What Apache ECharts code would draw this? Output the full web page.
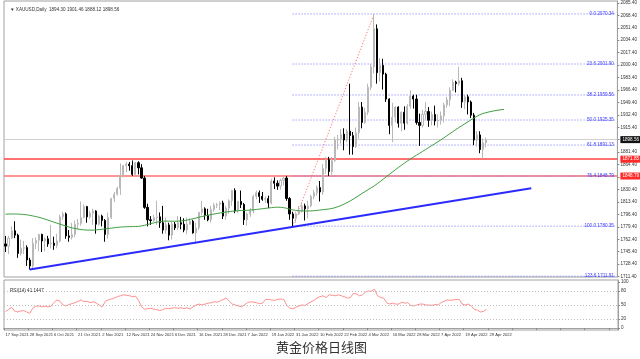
<!DOCTYPE html>
<html><head><meta charset="utf-8">
<script src="https://cdn.jsdelivr.net/npm/echarts@6/dist/echarts.min.js"></script>
<style>html,body{margin:0;padding:0;background:#fff}#c{width:640px;height:359px}</style>
</head><body><div id="c"></div>
<script>
const opens = [1756,1753,1764,1774,1768,1743,1750,1751,1734,1726,1757,1761,1769,1760,1763,1756,1757,1754,1760,1793,
1797,1767,1765,1769,1783,1784,1792,1807,1793,1798,1801,1783,1794,1788,1769,1792,1818,1824,1832,1850,
1863,1865,1863,1851,1867,1860,1846,1806,1789,1788,1792,1793,1785,1775,1782,1768,1783,1778,1785,1783,
1775,1783,1787,1771,1778,1799,1804,1795,1789,1803,1809,1810,1812,1794,1805,1815,1829,1801,1814,1810,
1789,1797,1801,1821,1826,1821,1817,1818,1812,1842,1839,1835,1843,1846,1818,1797,1791,1797,1801,1808,
1804,1808,1821,1826,1833,1827,1859,1871,1855,1870,1898,1899,1906,1898,1910,1904,1889,1908,1943,1922,
1936,1970,1998,2050,1990,2000,1988,1954,1918,1929,1943,1921,1936,1921,1944,1958,1954,1922,1918,1933,
1937,1925,1933,1924,1925,1931,1946,1953,1966,1977,1975,1979,1950,1957,1950,1932,1898,1905,1885,1894.30];
const highs = [1767,1767,1780,1787,1770,1762,1760,1754,1737,1764,1765,1770,1770,1765,1767,1782,1766,1770,1796,1800,
1799,1775,1785,1788,1790,1814,1810,1808,1801,1804,1802,1796,1796,1790,1799,1819,1827,1834,1866,1864,
1868,1868,1870,1868,1869,1865,1849,1811,1794,1796,1815,1799,1808,1792,1785,1787,1786,1794,1793,1791,
1792,1791,1789,1785,1800,1815,1806,1804,1808,1812,1812,1814,1815,1808,1817,1830,1832,1815,1829,1812,
1799,1805,1823,1829,1829,1827,1821,1822,1845,1847,1843,1845,1848,1849,1820,1800,1800,1808,1813,1811,
1815,1823,1830,1836,1842,1865,1875,1875,1875,1902,1905,1913,1914,1913,1975,1909,1915,1950,1950,1942,
1975,2002,2070.34,2056,2010,2009,1990,1955,1949,1944,1944,1937,1944,1947,1966,1960,1960,1934,1939,1950,
1943,1937,1945,1933,1937,1949,1957,1970,1981,1979,1998,1983,1960,1960,1952,1935,1910,1910,1900,1901.46];
const lows = [1745,1742,1763,1764,1737,1740,1742,1726,1721,1722,1749,1746,1745,1746,1752,1750,1748,1750,1758,1789,
1763,1759,1762,1765,1776,1781,1791,1785,1790,1782,1770,1781,1780,1759,1763,1790,1813,1822,1823,1847,
1854,1856,1849,1850,1851,1845,1804,1780,1782,1786,1782,1778,1770,1770,1761,1762,1775,1775,1776,1772,
1769,1782,1770,1756,1775,1795,1789,1787,1785,1800,1805,1802,1790,1789,1797,1808,1798,1798,1805,1782,
1781,1793,1798,1817,1812,1815,1812,1805,1810,1831,1830,1830,1836,1815,1789,1780.35,1785,1796,1799,1788,
1791,1806,1817,1822,1814,1823,1852,1849,1849,1868,1885,1893,1884,1895,1878,1878,1887,1900,1914,1920,
1932,1966,1989,1975,1978,1967,1950,1906,1895,1922,1915,1910,1912,1919,1941,1941,1919,1890,1915,1926,
1916,1918,1918,1915,1919,1922,1942,1944,1965,1963,1972,1942,1940,1933,1928,1891,1889,1880,1872,1888.12];
const closes = [1753,1764,1774,1768,1743,1750,1751,1734,1726,1757,1761,1769,1760,1763,1756,1757,1754,1760,1793,1797,
1767,1765,1769,1783,1784,1792,1807,1793,1798,1801,1783,1794,1788,1769,1792,1818,1824,1832,1850,1863,
1865,1863,1851,1867,1860,1846,1806,1789,1788,1792,1793,1785,1775,1782,1768,1783,1778,1785,1783,1775,
1783,1787,1771,1778,1799,1804,1795,1789,1803,1809,1810,1812,1794,1805,1815,1829,1801,1814,1810,1789,
1797,1801,1821,1826,1821,1817,1818,1812,1842,1839,1835,1843,1846,1818,1797,1791,1797,1801,1808,1804,
1808,1821,1826,1833,1827,1859,1871,1855,1870,1898,1899,1906,1898,1910,1904,1889,1908,1943,1922,1936,
1970,1998,2050,1990,2000,1988,1954,1918,1929,1943,1921,1936,1921,1944,1958,1954,1922,1918,1933,1937,
1925,1933,1924,1925,1931,1946,1953,1966,1977,1975,1979,1950,1957,1950,1932,1898,1905,1885,1894,1898.56];
const maValues = [1796.7,1796.8,1796.9,1796.9,1796.8,1796.6,1796.3,1795.8,1795.1,1794.3,
1793.4,1792.5,1791.3,1790.0,1788.6,1787.2,1785.8,1784.4,1783.0,1781.7,
1780.3,1779.1,1778.0,1777.1,1776.3,1775.6,1775.2,1774.9,1774.8,1774.9,
1775.2,1775.6,1776.1,1776.6,1777.1,1777.6,1778.1,1778.6,1779.0,1779.3,
1779.5,1779.6,1779.7,1779.8,1780.0,1780.6,1781.5,1782.5,1783.6,1784.7,
1785.7,1786.5,1787.0,1787.2,1787.2,1787.1,1787.0,1787.1,1787.3,1787.8,
1788.5,1789.4,1790.4,1791.4,1792.4,1793.4,1794.4,1795.3,1796.1,1796.9,
1797.6,1798.3,1799.0,1799.6,1800.2,1800.7,1801.1,1801.4,1801.6,1801.8,
1802.0,1802.3,1802.7,1803.1,1803.6,1804.1,1804.6,1805.1,1805.6,1806.0,
1806.2,1806.1,1805.6,1804.8,1803.6,1802.6,1801.9,1801.4,1801.1,1801.0,
1801.0,1801.1,1801.4,1801.8,1802.3,1802.8,1803.3,1803.7,1804.4,1805.5,
1806.9,1808.5,1810.3,1812.4,1814.6,1817.0,1819.6,1822.3,1825.0,1827.6,
1830.2,1832.7,1835.2,1838.2,1841.3,1844.5,1847.7,1850.9,1854.1,1857.3,
1860.4,1863.4,1866.4,1869.3,1872.0,1874.7,1877.3,1879.8,1882.4,1885.0,
1887.6,1890.2,1892.8,1895.4,1898.0,1900.8,1903.6,1906.5,1909.4,1912.3,
1915.0,1917.6,1920.2,1922.8,1925.4,1928.0,1930.4,1932.6,1934.2,1935.4,
1936.4,1937.3,1938.1,1938.8,1939.4,1939.8];
const rsiValues = [36,40,45,37,35,37,38,35,32,43,
47,48,46,47,46,47,55,61,58,50,
48,51,53,55,58,61,57,58,55,57,
54,50,46,58,61,63,65,68,70,72,
71,70,68,69,60,46,41,42,43,41,
40,38,40,43,42,43,44,43,44,42,
44,41,46,50,52,50,52,54,55,57,
56,59,62,65,58,52,50,48,46,50,
55,57,56,55,53,54,62,62,61,60,
62,63,62,49,43,42,45,48,50,49,
53,57,60,65,68,70,66,72,71,70,
72,70,68,65,66,75,74,70,72,78,
80,80,84,70,66,65,55,52,54,52,
52,56,54,55,49,48,50,52,52,50,
50,49,51,50,55,58,61,60,61,62,
62,52,50,52,48,40,39,35,36,41];
const xTickLabels = ['17 Sep 2021','28 Sep 2021','6 Oct 2021','21 Oct 2021','2 Nov 2021','12 Nov 2021','24 Nov 2021',
'6 Dec 2021','16 Dec 2021','28 Dec 2021','7 Jan 2022','19 Jan 2022','31 Jan 2022','10 Feb 2022','22 Feb 2022',
'4 Mar 2022','16 Mar 2022','28 Mar 2022','7 Apr 2022','19 Apr 2022','29 Apr 2022'];
const priceTicks = [2085.40,2068.40,2051.40,2034.40,2017.40,2000.40,1983.40,1966.40,1949.40,1932.40,1915.40,1898.40,
1881.40,1864.40,1847.40,1830.40,1813.40,1796.40,1779.40,1762.40,1745.40,1728.40,1711.40];
const rsiTicks = [0,20,50,80,100];
const rsiLevels = [20,50,80];
const fibNames = ['0.0','23.6','38.2','50.0','61.8','76.4','100.0','123.6'];
const fibLevels = [2070.34,2001.90,1959.56,1925.35,1891.13,1848.79,1780.35,1711.91];
const fibFrom = [95,1780.35];
const fibTo = [122,2070.34];
const trendPts = [[8,1721.0],[174,1832.0]];
const supportLevels = [1871.85,1848.79];
const bidPrice = 1898.56;
const titleText = 'XAUUSD,Daily  1894.30 1901.46 1888.12 1898.56';
const rsiText = 'RSI(14) 41.1447';
const chartTitle = '黄金价格日线图';

const TOTAL = 203;
const cats = [];
{ let d = new Date(Date.UTC(2021,8,17));
  while (cats.length < TOTAL) {
    const wd = d.getUTCDay(); const s = d.toISOString().slice(0,10);
    if (wd !== 0 && wd !== 6 && s !== '2022-04-15') cats.push(s);
    d = new Date(d.getTime() + 86400000);
  } }
const lastIdx = TOTAL - 1;
const candleData = opens.map((o,i)=>[o, closes[i], lows[i], highs[i]]);
const small = {fontSize:4.6, fontFamily:'Liberation Sans', color:'#333'};

const fibSeries = fibLevels.map((v,k)=>({
  type:'line', xAxisIndex:0, yAxisIndex:0, symbol:'circle', symbolSize:0, showSymbol:true, silent:true,
  itemStyle:{color:'rgba(0,0,0,0)'},
  lineStyle:{color:'#7070ff', width:1, type:[1,2]},
  labelLayout:{hideOverlap:false},
  data:[{value:[fibFrom[0], v], label:{show:false}},
        {value:[lastIdx, v], label:{show:true, position:'left', distance:2, offset:[0,-3],
    formatter: fibNames[k] + ' ' + v.toFixed(2), color:'#3838ff', fontSize:4.6, fontFamily:'Liberation Sans'}}],
  z:3
}));

const chart = echarts.init(document.getElementById('c'), null, {renderer:'canvas'});
chart.setOption({
  animation:false,
  backgroundColor:'#fff',
  title:[
    {text:'▼ ' + titleText, left:5, top:2, textStyle:{fontSize:4.6, fontFamily:'Liberation Sans', color:'#333', fontWeight:'normal'}},
    {text:rsiText, left:5, top:283, textStyle:{fontSize:4.6, fontFamily:'Liberation Sans', color:'#333', fontWeight:'normal'}},
    {text:chartTitle, left:271, top:336, textStyle:{fontSize:13, fontFamily:'Noto Sans CJK SC', color:'#333', fontWeight:'normal'}}
  ],
  grid:[
    {left:4, right:22, top:1, height:276, show:true, borderColor:'#a0a0a0', borderWidth:1},
    {left:4, right:22, top:280, height:50, show:true, borderColor:'#a0a0a0', borderWidth:1}
  ],
  xAxis:[
    {type:'category', gridIndex:0, data:cats, boundaryGap:true, axisLabel:{show:false}, axisTick:{show:false}, axisLine:{show:false}},
    {type:'category', gridIndex:1, data:cats, boundaryGap:true,
     axisLine:{show:true, lineStyle:{color:'#a0a0a0'}},
     axisTick:{show:true, interval:7, length:2, lineStyle:{color:'#888'}},
     axisLabel:{show:true, interval:7, showMinLabel:true, hideOverlap:false, align:'left', margin:3,
       fontSize:4.1, fontFamily:'Liberation Sans', color:'#333',
       formatter:(v,i)=> (xTickLabels[i/8] !== undefined ? xTickLabels[i/8] : '')}}
  ],
  yAxis:[
    {type:'value', gridIndex:0, position:'right', min:1710.8, max:2088, scale:true,
     axisLine:{show:true, lineStyle:{color:'#a0a0a0'}},
     axisTick:{show:true, length:2, customValues:priceTicks, lineStyle:{color:'#888'}},
     axisLabel:{show:true, customValues:priceTicks, margin:3, ...small, formatter:v=>v.toFixed(2)},
     splitLine:{show:false}},
    {type:'value', gridIndex:1, position:'right', min:-4, max:104,
     axisLine:{show:true, lineStyle:{color:'#a0a0a0'}},
     axisTick:{show:true, length:2, customValues:rsiTicks, lineStyle:{color:'#888'}},
     axisLabel:{show:true, customValues:rsiTicks, margin:3, ...small},
     splitLine:{show:false}}
  ],
  series:[
    {type:'candlestick', xAxisIndex:0, yAxisIndex:0, data:candleData, barWidth:1.6, z:5,
     itemStyle:{color:'#ffffff', color0:'#000000', borderColor:'#b8b8b8', borderColor0:'#000000', borderWidth:1},
     markLine:{silent:true, symbol:['none','none'], z:2, data:[
       {yAxis:supportLevels[0], lineStyle:{color:'#ff4040', width:1.5, type:'solid'},
        label:{show:true, position:'end', distance:3, formatter:supportLevels[0].toFixed(2), backgroundColor:'#ff2a2a', color:'#fff', fontSize:4.6, fontFamily:'Liberation Sans', padding:[1,2]}},
       {yAxis:supportLevels[1], lineStyle:{color:'#ff7070', width:1.5, type:'solid'},
        label:{show:true, position:'end', distance:3, formatter:supportLevels[1].toFixed(2), backgroundColor:'#ff2a2a', color:'#fff', fontSize:4.6, fontFamily:'Liberation Sans', padding:[1,2]}},
       {yAxis:bidPrice, lineStyle:{color:'#cfcfcf', width:1, type:'solid'},
        label:{show:true, position:'end', distance:3, formatter:bidPrice.toFixed(2), backgroundColor:'#111', color:'#fff', fontSize:4.6, fontFamily:'Liberation Sans', padding:[1,2]}}
     ]}},
    {type:'line', xAxisIndex:0, yAxisIndex:0, data:maValues, symbol:'none', silent:true, z:6,
     lineStyle:{color:'#3f9f3f', width:1}},
    {type:'line', xAxisIndex:0, yAxisIndex:0, data:trendPts, symbol:'none', silent:true, z:6,
     lineStyle:{color:'#2b2bff', width:2}},
    {type:'line', xAxisIndex:0, yAxisIndex:0, data:[fibFrom, fibTo], symbol:'none', silent:true, z:4,
     lineStyle:{color:'#ff5a5a', width:1, type:[1,2]}},
    ...fibSeries,
    {type:'line', xAxisIndex:1, yAxisIndex:1, data:rsiValues, symbol:'none', silent:true,
     lineStyle:{color:'#ff8f8f', width:1},
     markLine:{silent:true, symbol:['none','none'], label:{show:false},
       lineStyle:{color:'#bdbdbd', width:1, type:[1,2]}, data:rsiLevels.map(v=>({yAxis:v}))}}
  ]
});
</script></body></html>
